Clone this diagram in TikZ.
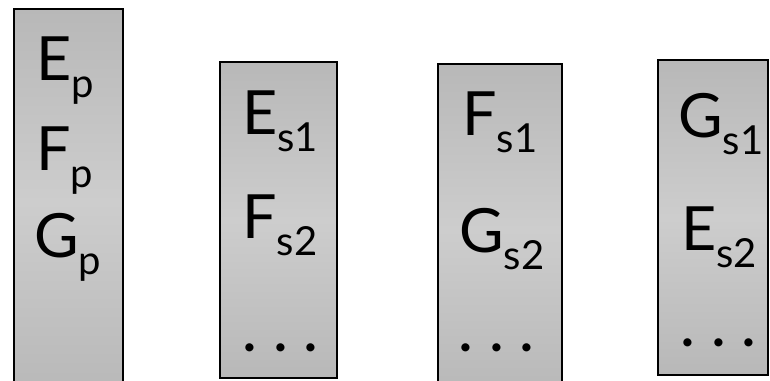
\documentclass[tikz,border=0pt]{standalone}
\usepackage{fontspec}
\setmainfont{Lato}
\newcommand\sbx[1]{\raisebox{-17pt}{\fontsize{40}{40}\selectfont #1}}
\newcommand\dotrow{.\hspace{18pt}.\hspace{18pt}.}
\begin{document}
\begin{tikzpicture}[x=1pt,y=-1pt,
  panel/.style={draw=black, line width=1.6pt, top color=boxedge, bottom color=boxedge, middle color=boxmid},
  lab/.style={anchor=base west, inner sep=0pt, font=\fontsize{61}{61}\selectfont},
  dots/.style={anchor=base west, inner sep=0pt, font=\fontsize{54}{54}\selectfont\bfseries}]
\definecolor{boxedge}{HTML}{B8B8B8}
\definecolor{boxmid}{HTML}{CDCDCD}
\useasboundingbox (0,0) rectangle (770,380);
% panels
\path[panel] (14,9) rectangle (123,395);
\path[panel] (220,62) rectangle (337,378);
\path[panel] (438,64) rectangle (562,395);
\path[panel] (658,60) rectangle (768,375);
% box 1
\node[lab] (ep) at (36,80) {E\sbx{p}};
\node[lab] (fp) at (36,170) {F\sbx{p}};
\node[lab] (gp) at (34,257) {G\sbx{p}};
% box 2
\node[lab] (es1) at (242,134) {E\sbx{s1}};
\node[lab] (fs2) at (242,238) {F\sbx{s2}};
\node[dots] (d2) at (243,351) {\dotrow};
% box 3
\node[lab] (fs1) at (462,135) {F\sbx{s1}};
\node[lab] (gs2) at (459,252) {G\sbx{s2}};
\node[dots] (d3) at (459,351) {\dotrow};
% box 4
\node[lab] (gs1) at (678,137) {G\sbx{s1}};
\node[lab] (es2) at (681,250) {E\sbx{s2}};
\node[dots] (d4) at (681,346) {\dotrow};
\end{tikzpicture}
\end{document}
